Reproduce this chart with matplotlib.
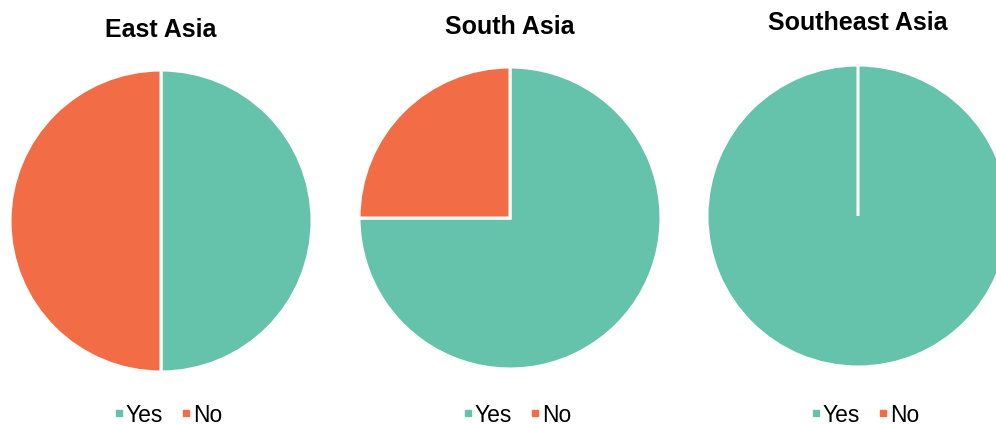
import matplotlib.pyplot as plt
from matplotlib.lines import Line2D

plt.rcParams['font.family'] = ['Liberation Sans', 'DejaVu Sans']

regions = ['East Asia', 'South Asia', 'Southeast Asia']
labels = ['Yes', 'No']
yes_share = [50, 75, 100]
no_share = [50, 25, 0]
colors = ['#64C3AA', '#F26C45']

W, H = 996, 425
# pie centres and title heights, in pixels from the top-left corner
centers = [(161, 221), (510, 218), (858, 216)]
title_y = [30, 27, 23]
radius = 151
half = 170

fig = plt.figure(figsize=(W / 100, H / 100), dpi=100)

for i, region in enumerate(regions):
    cx, cy = centers[i]
    ax = fig.add_axes([(cx - half) / W, 1 - (cy + half) / H, 2 * half / W, 2 * half / H])
    ax.pie([yes_share[i], no_share[i]], colors=colors, startangle=90, counterclock=False,
           radius=radius, center=(0, 0),
           wedgeprops=dict(edgecolor='white', linewidth=2.2))
    ax.set_xlim(-half, half)
    ax.set_ylim(-half, half)
    ax.set_aspect('equal')
    ax.axis('off')

    fig.text(cx / W, 1 - title_y[i] / H, region, ha='center', va='center',
             fontsize=18, fontweight='bold')

    handles = [Line2D([], [], marker='s', linestyle='none', markersize=5,
                      markerfacecolor=c, markeredgecolor=c) for c in colors]
    ax.legend(handles, labels, loc='center', ncol=2, frameon=False,
              bbox_to_anchor=((cx + 7) / W, 1 - 415 / H), bbox_transform=fig.transFigure,
              fontsize=16.5, handlelength=0.4, handletextpad=0.1, columnspacing=0.8)

fig.savefig('out.png', dpi=100)
